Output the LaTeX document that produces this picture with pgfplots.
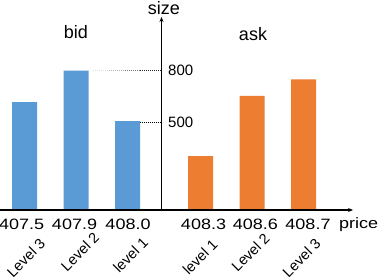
\documentclass[border=0pt]{standalone}
\usepackage{pgfplots}
\pgfplotsset{compat=1.18}
\usepackage{fontspec}
\setmainfont{Liberation Sans}
\newfontfamily\tickfam[FakeStretch=1.2]{Liberation Sans}
\usetikzlibrary{arrows.meta}
\definecolor{bidblue}{HTML}{5B9BD5}
\definecolor{askorange}{HTML}{ED7D31}
\newcommand{\tickfont}{\tickfam\fontsize{15bp}{18bp}\selectfont}
\newcommand{\ytfont}{\fontsize{15bp}{18bp}\selectfont}
\newcommand{\titfont}{\fontsize{18bp}{21bp}\selectfont}
\newcommand{\lvfont}{\fontsize{14.5bp}{17bp}\selectfont}
\begin{document}
\begin{tikzpicture}
\path[use as bounding box] (0,0) rectangle (380bp,280bp);
\begin{axis}[
  at={(0bp,70bp)}, anchor=south west,
  scale only axis, width=353bp, height=193bp,
  xmin=-0.476, xmax=6.379, ymin=0, ymax=1108,
  axis x line*=bottom, axis y line=none,
  x axis line style={draw=none,-},
  clip=false,
  xtick={-0.058,0.971,2.010,3.476,4.485,5.505},
  xticklabels={407.5,407.9,408.0,408.3,408.6,408.7},
  xticklabel style={font=\tickfont, anchor=base, yshift=-19bp, inner sep=0pt},
  major tick length=0pt,
  xtick style={draw=none},
  ytick=\empty,
]
\addplot[ybar, bar shift=0pt, bar width=25bp, fill=bidblue, draw=none]
  coordinates {(0,620) (1,800) (2,510)};
\addplot[ybar, bar shift=0pt, bar width=25bp, fill=askorange, draw=none]
  coordinates {(3.42,310) (4.42,655) (5.42,750)};
% axes
\draw[line width=1.7bp, -{Stealth[length=5bp,width=4bp]}] (axis cs:-0.476,0) -- (axis cs:6.379,0);
\draw[line width=1.7bp, -{Stealth[length=5bp,width=4bp]}] (axis cs:2.660,0) -- (axis cs:2.660,1108);
% dotted guide lines
\draw[line width=0.9bp, dash pattern=on 1bp off 1bp, black!12] (axis cs:1.33,800) -- (axis cs:1.65,800);
\draw[line width=0.9bp, dash pattern=on 1bp off 1bp, black!30] (axis cs:1.65,800) -- (axis cs:1.95,800);
\draw[line width=0.9bp, dash pattern=on 1bp off 1bp, black!55] (axis cs:1.95,800) -- (axis cs:2.25,800);
\draw[line width=0.9bp, dash pattern=on 1bp off 1bp, black!85] (axis cs:2.25,800) -- (axis cs:2.64,800);
\draw[line width=0.9bp, dash pattern=on 1bp off 1bp, black] (axis cs:2.24,505) -- (axis cs:2.64,505);
% y tick labels
\node[anchor=west, inner sep=0pt, font=\ytfont] at ([xshift=6.5bp]axis cs:2.660,800) {800};
\node[anchor=west, inner sep=0pt, font=\ytfont] at ([xshift=6.5bp]axis cs:2.660,505) {500};
\end{axis}
% titles
\node[anchor=base, inner sep=0pt, font=\titfont] at (76bp,241.7bp) {bid};
\node[anchor=base, inner sep=0pt, font=\titfont] at (253bp,239.3bp) {ask};
\node[anchor=base, inner sep=0pt, font=\titfont] at (164bp,265bp) {size};
\node[anchor=base west, inner sep=0pt, font=\tickfont] at (339bp,51bp) {price};
% level labels
\node[rotate=45, inner sep=0pt, font=\lvfont] at (25.9bp,22bp) {Level 3};
\node[rotate=45, inner sep=0pt, font=\lvfont] at (80bp,28bp) {Level 2};
\node[rotate=45, inner sep=0pt, font=\lvfont] at (130.5bp,25bp) {level 1};
\node[rotate=45, inner sep=0pt, font=\lvfont] at (200bp,23bp) {level 1};
\node[rotate=45, inner sep=0pt, font=\lvfont] at (250.5bp,27.5bp) {Level 2};
\node[rotate=45, inner sep=0pt, font=\lvfont] at (301.5bp,22bp) {Level 3};
\end{tikzpicture}
\end{document}
